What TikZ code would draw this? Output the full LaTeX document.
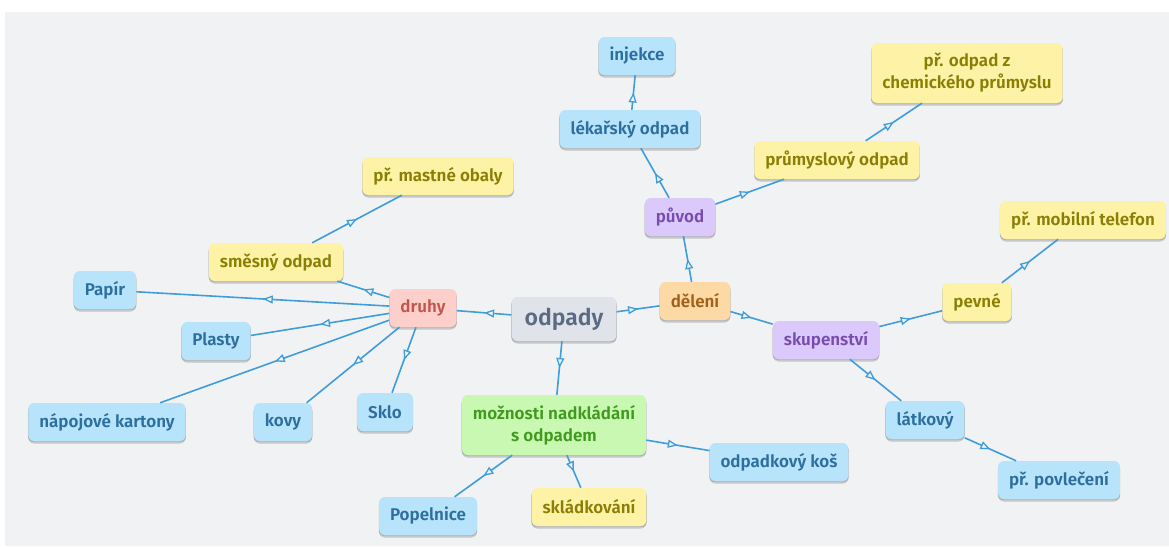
\documentclass[tikz,border=0pt]{standalone}
\usepackage{fontspec}
\setmainfont{Fira Sans}[BoldFont={Fira Sans SemiBold}]
\usetikzlibrary{arrows.meta,decorations.markings,shadows}

\definecolor{bg}{HTML}{F1F2F4}
\definecolor{wire}{HTML}{3F9DDB}
\definecolor{fBlue}{HTML}{B7E3FB}\definecolor{tBlue}{HTML}{2C6E9E}
\definecolor{fYel}{HTML}{FDF2A6}\definecolor{tYel}{HTML}{8A7E05}
\definecolor{fPink}{HTML}{FCCFCB}\definecolor{tPink}{HTML}{C0574F}
\definecolor{fOra}{HTML}{FDD9A6}\definecolor{tOra}{HTML}{A0621A}
\definecolor{fPur}{HTML}{DBC9FB}\definecolor{tPur}{HTML}{7A4BAE}
\definecolor{fGrn}{HTML}{C9F8B2}\definecolor{tGrn}{HTML}{3F9A1E}
\definecolor{fGry}{HTML}{E0E4EA}\definecolor{tGry}{HTML}{5C6B84}

\tikzset{
  box/.style={rounded corners=6pt, minimum height=38pt, inner xsep=11pt, inner ysep=4pt,
    align=center, font=\bfseries\fontsize{17}{22}\selectfont,
    double copy shadow={shadow xshift=0pt, shadow yshift=-1.2pt, opacity=0.12, fill=black}},
  tall/.style={minimum height=60pt},
  blu/.style={box, fill=fBlue, text=tBlue},
  yel/.style={box, fill=fYel, text=tYel},
  pnk/.style={box, fill=fPink, text=tPink},
  ora/.style={box, fill=fOra, text=tOra},
  pur/.style={box, fill=fPur, text=tPur},
  grn/.style={box, fill=fGrn, text=tGrn},
  root/.style={box, fill=fGry, text=tGry, minimum height=44pt, inner xsep=13pt,
    font=\bfseries\fontsize{23}{26}\selectfont},
  link/.style={draw=wire, line width=1.6pt, postaction={decorate},
    decoration={markings, mark=at position 0.5 with
      {\arrow{Triangle[length=10pt, width=8pt, line width=1.3pt, fill=bg]}}}}
}

\begin{document}
\begin{tikzpicture}[x=1pt, y=-1pt]
  % page and canvas background
  \fill[white] (0,0) rectangle (1169,546);
  \fill[bg] (5,12) rectangle (1169,546);
  \useasboundingbox (0,0) rectangle (1169,546);

  % centre
  \node[root] (odpady) at (564,319) {odpady};

  % first level
  \node[pnk] (druhy)  at (423,308) {druhy};
  \node[ora] (deleni) at (695,301) {dělení};
  \node[grn, tall] (moznosti) at (554,425) {možnosti nadkládání\\s odpadem};

  % druhy branch
  \node[yel] (smesny)  at (276,262) {směsný odpad};
  \node[yel] (mastne)  at (438,176) {př. mastné obaly};
  \node[blu] (papir)   at (105,290) {Papír};
  \node[blu] (plasty)  at (216,341) {Plasty};
  \node[blu] (kartony) at (107,422) {nápojové kartony};
  \node[blu] (kovy)    at (283,422) {kovy};
  \node[blu] (sklo)    at (385,412) {Sklo};

  % dělení branch
  \node[pur] (puvod)   at (680,217) {původ};
  \node[blu] (lekar)   at (630,129) {lékařský odpad};
  \node[blu] (injekce) at (637,56)  {injekce};
  \node[yel] (prumysl) at (837,160) {průmyslový odpad};
  \node[yel, tall] (chem) at (967,73) {př. odpad z\\chemického průmyslu};
  \node[pur] (skup)    at (826,340) {skupenství};
  \node[yel] (pevne)   at (977,302) {pevné};
  \node[yel] (mobil)   at (1083,220) {př. mobilní telefon};
  \node[blu] (latkovy) at (925,420) {látkový};
  \node[blu] (povlec)  at (1059,480) {př. povlečení};

  % možnosti branch
  \node[blu] (kos)      at (779,462) {odpadkový koš};
  \node[yel] (skladka)  at (589,507) {skládkování};
  \node[blu] (popelnice) at (428,516) {Popelnice};

  % connectors
  \draw[link] (odpady) -- (druhy);
  \draw[link] (odpady) -- (deleni);
  \draw[link] (odpady) -- (moznosti);

  \draw[link] (druhy) -- (smesny);
  \draw[link] (smesny) -- (mastne);
  \draw[link] (druhy) -- (papir);
  \draw[link] (druhy) -- (plasty);
  \draw[link] (druhy) -- (kartony);
  \draw[link] (druhy) -- (kovy);
  \draw[link] (druhy) -- (sklo);

  \draw[link] (deleni) -- (puvod);
  \draw[link] (puvod) -- (lekar);
  \draw[link] (lekar) -- (injekce);
  \draw[link] (puvod) -- (prumysl);
  \draw[link] (prumysl) -- (chem);
  \draw[link] (deleni) -- (skup);
  \draw[link] (skup) -- (pevne);
  \draw[link] (pevne) -- (mobil);
  \draw[link] (skup) -- (latkovy);
  \draw[link] (latkovy) -- (povlec);

  \draw[link] (moznosti) -- (kos);
  \draw[link] (moznosti) -- (skladka);
  \draw[link] (moznosti) -- (popelnice);
\end{tikzpicture}
\end{document}
